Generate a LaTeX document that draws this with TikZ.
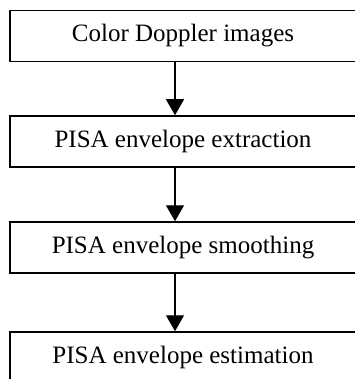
\documentclass[tikz,border=0pt]{standalone}
\usepackage{fontspec}
\setmainfont{Liberation Serif}
\usetikzlibrary{arrows.meta}
\begin{document}
\begin{tikzpicture}[x=1pt,y=1pt,
  stepbox/.style={draw=black, line width=1.5pt, minimum width=346pt, minimum height=51pt,
    inner sep=0pt, font=\fontsize{25}{30}\selectfont, text=black},
  flowarrow/.style={line width=1.3pt, -{Triangle[width=18pt,length=16pt]}}]
\useasboundingbox (0,0) rectangle (354,-379);
\node[stepbox] (b1) at (183,-36) {Color Doppler images};
\node[stepbox] (b2) at (183,-141.5) {PISA envelope extraction};
\node[stepbox] (b3) at (183,-247.5) {PISA envelope smoothing};
\node[stepbox] (b4) at (183,-357.5) {PISA envelope estimation};
\draw[flowarrow] ([xshift=-8pt]b1.south) -- ([xshift=-8pt]b2.north);
\draw[flowarrow] ([xshift=-8pt]b2.south) -- ([xshift=-8pt]b3.north);
\draw[flowarrow] ([xshift=-8pt]b3.south) -- ([xshift=-8pt]b4.north);
\end{tikzpicture}
\end{document}
